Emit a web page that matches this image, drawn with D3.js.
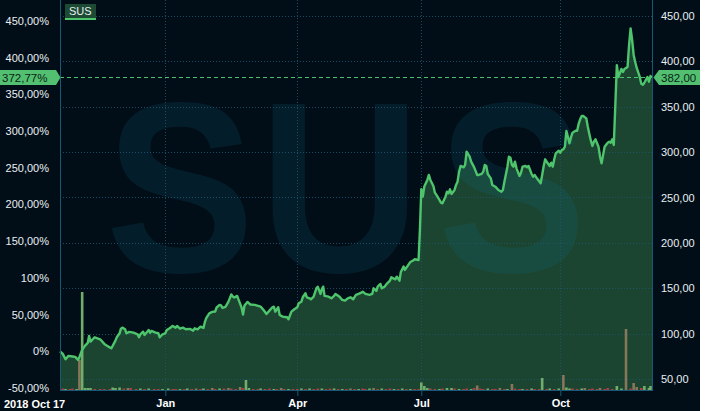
<!DOCTYPE html>
<html><head><meta charset="utf-8">
<script src="https://cdn.jsdelivr.net/npm/d3@7"></script>
<style>
body{margin:0;background:#fff;}
svg{display:block;}
text{font-family:"Liberation Sans",Arial,sans-serif;}
</style>
</head><body>
<svg id="c" width="720" height="411"></svg>
<script>
// ---------- DATA ----------
const ticker = "SUS";
const startDate = "2018-10-17";
// days since start date, and closing prices
const dayOffsets = [0,2,4,6,9,11,13,14,16,18,20,21,22,25,29,32,35,37,38,40,41,43,44,45,47,48,50,53,56,57,58,60,61,64,65,66,69,71,72,74,
76,77,79,81,83,84,86,88,90,93,95,96,98,100,102,103,104,106,108,110,111,113,114,115,117,119,121,122,123,125,126,128,129,130,132,134,137,141,143,145,147,149,150,151,153,154,156,159,160,162,164,
166,167,169,170,172,173,175,176,178,180,181,183,184,185,186,189,191,193,194,197,199,201,203,205,207,209,211,213,214,216,219,221,222,224,225,227,228,230,232,234,235,238,239,241,242,244,245,247,249,251,252,254,255,256,
257,258,259,261,262,263,265,266,267,269,270,271,273,274,275,276,277,279,280,281,282,283,285,286,287,289,290,292,294,295,297,298,299,300,301,303,304,306,308,310,311,312,314,315,316,317,318,319,320,322,323,324,326,327,328,330,331,332,334,336,337,338,339,340,342,343,344,345,346,348,
349,350,351,352,353,355,356,357,359,360,361,362,363,364,366,367,368,369,370,371,372,374,375,376,377,378,380,381,382,383,384,386,387,389,390,391,393,394,395,396,397,398,399,401,402,403,404,406,407,408,409];
const closes = [80.8,77.9,72.0,75.7,75.1,74.6,71.3,74.6,82.3,86.7,90.0,97.7,91.4,96.2,94.0,88.9,85.9,84.1,86.7,92.5,96.2,100.6,105.7,106.8,105.0,100.6,102.1,101.3,99.5,96.2,99.5,102.4,98.8,104.3,101.3,103.2,101.3,100.6,96.2,99.5,
100.6,104.3,106.1,108.7,106.8,108.7,105.7,106.8,105.0,105.4,103.5,106.1,105.0,107.9,106.5,113.1,117.5,122.6,124.1,124.6,129.0,131.8,131.2,128.5,129.6,135.1,143.3,141.1,140.0,141.7,137.3,129.0,121.3,131.2,135.1,132.3,131.8,129.9,126.3,121.9,125.5,129.2,129.9,124.4,129.2,120.8,118.9,118.2,116.0,124.4,127.0,
129.2,133.6,135.4,140.2,144.6,140.2,139.1,138.0,140.9,150.1,151.9,143.9,149.0,151.9,141.7,140.9,139.1,141.7,143.9,140.9,137.3,136.5,139.1,140.2,138.0,142.8,143.9,145.3,146.4,143.9,142.8,143.9,150.1,147.2,151.9,154.9,150.1,151.9,155.6,158.5,162.2,160.0,162.9,158.5,168.1,174.1,170.3,174.7,179.1,180.7,182.0,181.5,181.2,215,
259,251,262,269.3,274.8,269.3,262.7,255.3,252.8,247.3,244.3,243.6,250.9,256.4,254.6,259.0,253.9,258.3,263.8,267.4,278.4,284.7,283.2,285.8,300.4,294.9,289.4,283.2,274.8,274.8,275.9,278.4,285.8,284.7,275.9,271.1,263.8,261.9,258.3,256.4,258.3,267.4,283.9,294.9,293.8,285.8,283.9,289.4,282.1,273.7,277.3,283.9,284.7,283.2,284.7,275.9,272.9,274.8,270.0,265.6,274.8,284.7,292.0,289.4,284.7,288.3,283.9,292.0,298.6,301.5,
299.3,302.3,303.0,306,323.2,309.7,316.2,321.3,323.5,323.5,330.9,336.0,339.7,339.7,337.1,327.9,319.9,312.5,306.7,311.4,314.0,305.9,294.9,287.6,296.8,305.9,310.3,311.4,310.3,314.0,307.8,395.7,382.6,391.4,388.1,391.4,393.6,417.8,436.1,423.3,406.8,399.1,392.5,382.6,375.2,374.1,376.3,382.6,377.4,383.7,382.0];

// volume (relative units), g = up, r = down, b = down (large)
const volDays = [2,4,7,9,12,14,16,18,20,22,25,29,32,36,38,40,43,46,49,51,55,58,61,64,68,71,74,
78,81,83,86,89,91,94,97,100,102,105,108,110,113,116,119,121,124,127,129,131,133,136,139,141,144,147,150,152,155,157,160,163,
166,169,172,175,178,181,184,187,190,193,196,199,202,205,208,211,214,216,219,222,225,228,231,234,237,240,243,246,249,252,255,
257,259,261,263,266,269,271,274,277,279,282,285,287,290,292,294,296,298,301,304,306,309,312,314,317,319,322,324,327,330,332,335,337,340,342,345,348,
351,353,355,357,360,363,365,368,370,373,375,378,380,383,386,389,392,395,397,399,402,404,407,408];
const volValues = [1.5,1,1,1.5,1,30,98,2,2,2,1,1,1,1,2.5,2,2.5,1.5,2,2,1,1.5,1,1.5,1,1,1,
1.5,1,1,1,1,1.5,1,1.5,1,1.5,1,2,1,1.5,1.5,2,1.5,1,3,2,10,2,1,1,1.5,1,1.5,1,1,2,1,1,1,
1,1.5,1,1.5,1,1.5,1.5,1,1.5,1.5,1,1,1,1.5,1,1,1.5,1,1.5,2,1,1.5,1,1.5,1,1,1.5,1,1,1,1,
7.5,4,2,1.5,1,1,1.5,2,2,1.5,1,1,1.5,1,2,4.5,1.5,1,1.5,1,1,2,1,1,6,1.5,1,1,1,1.5,1,1,12,1,1.5,1,1.5,
15,2.5,1.5,1.5,1,1.5,2,1,1.5,1,2,1,2,1,4,1.5,61,1.5,7,3,2,4,2,4];
const volKinds = ["r","g","r","r","g","b","g","g","g","g","r","r","r","r","g","g","g","r","b","r","r","g","r","g","r","r","g",
"g","r","r","g","r","g","r","b","r","g","r","b","r","g","r","b","r","r","b","r","g","g","r","r","g","r","r","g","r","b","r","g","r",
"r","g","r","g","r","r","g","r","r","g","r","g","r","b","r","g","r","r","g","b","r","g","r","r","g","r","g","r","g","r","r",
"g","g","g","r","r","g","r","g","g","r","g","r","r","g","r","b","r","r","g","r","r","b","r","g","b","r","r","g","r","g","r","r","g","r","g","r","g",
"b","g","g","r","r","g","b","r","r","r","b","r","r","r","g","g","b","r","b","b","r","g","g","g"];

// axis ticks
const xBreakDates = ["2018-10-17","2019-01-01","2019-04-01","2019-07-01","2019-10-01","2019-11-30"];
const monthTickDates = ["2019-01-01","2019-04-01","2019-07-01","2019-10-01"];
const monthTickLabels = ["Jan","Apr","Jul","Oct"];
const startLabel = "2018 Oct 17";
const priceTicks = [450,400,350,300,250,200,150,100,50];
const pctTicks = [450,400,350,300,250,200,150,100,50,0,-50];
const pctTickLabels = ["450,00%","400,00%","350,00%","300,00%","250,00%","200,00%","150,00%","100%","50,00%","0%","-50,00%"];

// ---------- CHART ----------
const W = 720, H = 411, panelW = 700;
const plot = {l:60, r:652, t:0, b:390};
const parse = d3.utcParse("%Y-%m-%d");
const start = parse(startDate);
const data = dayOffsets.map((d,i)=>({date:d3.utcDay.offset(start,d), close:closes[i]}));
const vols = volDays.map((d,i)=>({date:d3.utcDay.offset(start,d), v:volValues[i], k:volKinds[i]}));
const base = closes[0], last = closes[closes.length-1];

const x = d3.scaleUtc().domain(xBreakDates.map(parse)).range([plot.l,165.3,297.3,421.3,560.3,plot.r]);
const y = d3.scaleLinear().domain([38.2,467.3]).range([plot.b,plot.t]);
const vy = d3.scaleLinear().domain([0,100]).range([plot.b,plot.b-100]);

const svg = d3.select("#c");
svg.append("rect").attr("width",W).attr("height",H).attr("fill","#ffffff");
svg.append("rect").attr("width",panelW).attr("height",H).attr("fill","#020e17");

svg.append("defs").append("clipPath").attr("id","pc").append("rect")
  .attr("x",plot.l).attr("y",plot.t).attr("width",plot.r-plot.l).attr("height",plot.b-plot.t);

// area
svg.append("path").datum(data)
  .attr("d", d3.area().x(d=>x(d.date)).y0(plot.b).y1(d=>y(d.close)))
  .attr("fill","#1b4530");

// watermark
const wm = svg.append("g").attr("clip-path","url(#pc)");
const wmLetters = ticker.split("");
const wmCenters = [180,340,512];
wmLetters.forEach((ch,i)=>{
  wm.append("text").text(ch)
    .attr("transform",`translate(${wmCenters[i]},272) scale(0.92,1)`)
    .attr("text-anchor","middle")
    .attr("font-size",243).attr("font-weight","bold")
    .attr("fill","rgba(20,120,160,0.15)");
});

// grid
const grid = svg.append("g").attr("stroke","#1e5670").attr("stroke-opacity",0.85).attr("stroke-dasharray","1,2").attr("stroke-width",1);
priceTicks.forEach(p=>{
  const yy = Math.round(y(p))+0.5;
  grid.append("line").attr("x1",plot.l).attr("x2",plot.r).attr("y1",yy).attr("y2",yy);
});
monthTickDates.forEach(d=>{
  const xx = Math.round(x(parse(d)))+0.5;
  grid.append("line").attr("x1",xx).attr("x2",xx).attr("y1",plot.t).attr("y2",plot.b);
});

// volume
const volColor = {g:"#72ad6c", r:"#a8404c", b:"#86765a"};
svg.append("g").selectAll("rect").data(vols).join("rect")
  .attr("x",d=>x(d.date)-1.3).attr("width",2.6)
  .attr("y",d=>vy(d.v)).attr("height",d=>plot.b-vy(d.v))
  .attr("fill",d=>volColor[d.k]);

// line
svg.append("path").datum(data)
  .attr("d", d3.line().x(d=>x(d.date)).y(d=>y(d.close)))
  .attr("fill","none").attr("stroke","#4ec46c").attr("stroke-width",2.4).attr("stroke-linejoin","round");

// current price dashed line
const yL = y(last);
svg.append("line").attr("x1",plot.l).attr("x2",plot.r).attr("y1",yL).attr("y2",yL)
  .attr("stroke","#4ec46c").attr("stroke-dasharray","4,3").attr("stroke-width",1);

// borders
const bc = "#1a5878";
svg.append("line").attr("x1",plot.l+0.5).attr("x2",plot.l+0.5).attr("y1",0).attr("y2",plot.b).attr("stroke",bc);
svg.append("line").attr("x1",plot.r+0.5).attr("x2",plot.r+0.5).attr("y1",0).attr("y2",plot.b).attr("stroke",bc);

// bottom axis
const xAxis = svg.append("g").attr("transform",`translate(0,${plot.b})`)
  .call(d3.axisBottom(x).tickValues(monthTickDates.map(parse)).tickFormat((d,i)=>monthTickLabels[i]).tickSize(6).tickPadding(3).tickSizeOuter(0));
xAxis.select(".domain").attr("stroke",bc).attr("d",`M${plot.l},0.5H${plot.r+1}`);
xAxis.selectAll(".tick line").attr("stroke",bc);
xAxis.selectAll(".tick text").attr("fill","#ffffff").attr("font-size",11).attr("font-weight","bold")
  .attr("font-family","Liberation Sans, Arial, sans-serif");
svg.append("text").text(startLabel).attr("x",4).attr("y",408)
  .attr("fill","#ffffff").attr("font-size",11).attr("font-weight","bold");

// right axis
const fmt2 = v => v.toFixed(2).replace(".",",");
const rAxis = svg.append("g").attr("transform",`translate(${plot.r},0)`)
  .call(d3.axisRight(y).tickValues(priceTicks).tickFormat(fmt2).tickSize(0).tickPadding(9));
rAxis.select(".domain").remove();
rAxis.selectAll(".tick text").attr("fill","#e8eef4").attr("font-size",11).attr("font-family","Liberation Sans, Arial, sans-serif");

// left axis (percent)
const lAxis = svg.append("g").attr("transform",`translate(${plot.l},0)`)
  .call(d3.axisLeft(y).tickValues(pctTicks.map(p=>base*(1+p/100))).tickFormat((d,i)=>pctTickLabels[i]).tickSize(0).tickPadding(11));
lAxis.select(".domain").remove();
lAxis.selectAll(".tick text").attr("fill","#e8eef4").attr("font-size",11).attr("font-family","Liberation Sans, Arial, sans-serif");

// tags
const tagC = "#52c070";
svg.append("polygon").attr("points",[[0,yL-7.5],[56,yL-7.5],[60.5,yL],[56,yL+7.5],[0,yL+7.5]].join(" ")).attr("fill",tagC);
svg.append("text").text(fmt2((last/base-1)*100)+"%").attr("x",2).attr("y",yL).attr("dy","0.36em")
  .attr("font-size",11.5).attr("fill","#0c2416");
svg.append("polygon").attr("points",[[653.5,yL],[659,yL-7.5],[panelW,yL-7.5],[panelW,yL+7.5],[659,yL+7.5]].join(" ")).attr("fill",tagC);
svg.append("text").text(fmt2(last)).attr("x",661).attr("y",yL).attr("dy","0.36em")
  .attr("font-size",11.5).attr("fill","#0c2416");

// legend
const lg = svg.append("g");
lg.append("rect").attr("x",65).attr("y",4).attr("width",31).attr("height",16).attr("fill","#1c4a32");
lg.append("rect").attr("x",65).attr("y",18).attr("width",31).attr("height",2).attr("fill","#4ec46c");
lg.append("text").text(ticker).attr("x",69).attr("y",15).attr("font-size",11).attr("fill","#e8eef4");
</script>
</body></html>
